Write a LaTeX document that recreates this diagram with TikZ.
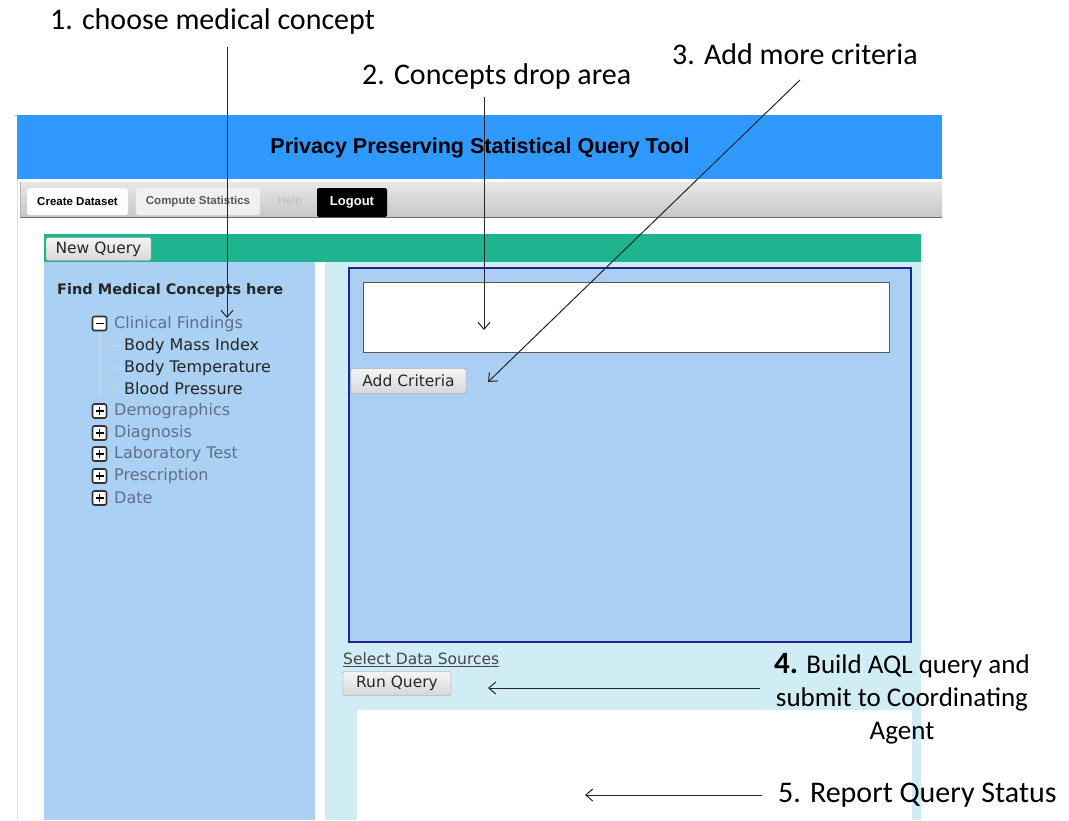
\documentclass[tikz,border=0pt]{standalone}
\usepackage{fontspec}
\setmainfont{Carlito}
\newfontfamily\uifont{DejaVu Sans}
\newfontfamily\arialfont{Liberation Sans}
\usetikzlibrary{arrows.meta}
\definecolor{headerblue}{RGB}{48,153,255}
\definecolor{barA}{RGB}{232,232,232}
\definecolor{barB}{RGB}{198,198,198}
\definecolor{barline}{RGB}{110,110,110}
\definecolor{greenbar}{RGB}{29,180,143}
\definecolor{leftpanel}{RGB}{170,208,244}
\definecolor{rightpanel}{RGB}{208,236,245}
\definecolor{critfill}{RGB}{170,207,243}
\definecolor{critborder}{RGB}{30,40,140}
\definecolor{treegray}{RGB}{95,112,135}
\definecolor{treeline}{RGB}{200,212,225}
\definecolor{btnA}{RGB}{245,245,245}
\definecolor{btnB}{RGB}{215,215,215}
\definecolor{btnline}{RGB}{150,150,150}
\definecolor{linkgray}{RGB}{70,70,70}
\tikzset{
  ann/.style={font=\fontsize{30}{33}\selectfont, inner sep=0pt},
  annarrow/.style={-{Straight Barb[length=7pt,width=12pt]}, line width=1pt, black!85},
  btn/.style={draw=btnline, rounded corners=2pt, top color=btnA, bottom color=btnB, inner sep=0pt, font=\uifont\fontsize{15.5}{18}\selectfont, text=black!85},
  treeitem/.style={anchor=west, inner sep=0pt, font=\uifont\fontsize{16}{18}\selectfont, text=treegray},
  treechild/.style={anchor=west, inner sep=0pt, font=\uifont\fontsize{16}{18}\selectfont, text=black!85},
  pmbox/.style={draw=black!80, line width=1.6pt, rounded corners=2pt, fill=white, minimum size=14pt, inner sep=0pt},
  tab/.style={inner sep=0pt, font=\arialfont\bfseries\fontsize{11.5}{13}\selectfont}
}
\begin{document}
\begin{tikzpicture}[x=1pt,y=-1pt]
\useasboundingbox (0,0) rectangle (1069,820);
\fill[white] (0,0) rectangle (1069,820);
% page frame
\draw[gray!40, line width=1pt] (14,115) -- (17,115);
\draw[gray!25, line width=1pt] (17,179) -- (17,820);
% header
\fill[headerblue] (17,115) rectangle (942,179);
\node[font=\arialfont\bfseries\fontsize{21.5}{25}\selectfont, inner sep=0pt] (title) at (480,148) {Privacy Preserving Statistical Query Tool};
% toolbar
\shade[top color=barA, bottom color=barB] (20,182) rectangle (942,217);
\draw[barline, line width=1.5pt] (20,217.5) -- (942,217.5);
\draw[gray!60] (20,182) -- (20,217);
\node[tab, fill=white, draw=gray!30, rounded corners=2pt, minimum width=101pt, minimum height=27pt] (tcreate) at (77.5,201.5) {Create Dataset};
\node[tab, fill=gray!12, draw=gray!20, rounded corners=2pt, minimum width=124pt, minimum height=27pt, text=black!65] (tcompute) at (198,201.5) {Compute Statistics};
\node[tab, text=gray!45] (thelp) at (290,201.5) {Help};
\node[tab, fill=black, rounded corners=2pt, minimum width=70pt, minimum height=29pt, text=white, font=\arialfont\bfseries\fontsize{13}{15}\selectfont] (tlogout) at (352,202.5) {Logout};
% green bar
\fill[greenbar] (44,234) rectangle (921,262);
\node[btn, minimum width=105pt, minimum height=23pt] (newq) at (98.5,249) {New Query};
% panels
\fill[leftpanel] (44,262) rectangle (315,820);
\fill[rightpanel] (325,262) rectangle (921,820);
% criteria box
\draw[critborder, fill=critfill, line width=2pt] (349,268) rectangle (911,642);
\draw[gray!70!black, fill=white, line width=1pt] (363.5,282.5) rectangle (889,352.5);
\node[btn, minimum width=115pt, minimum height=25pt] (addcrit) at (408.5,381) {Add Criteria};
% below criteria
\node[anchor=west, inner sep=0pt, font=\uifont\fontsize{15.5}{18}\selectfont, text=linkgray] (selds) at (343,660) {\underline{Select Data Sources}};
\node[btn, minimum width=108pt, minimum height=24pt] (runq) at (397,683.5) {Run Query};
\fill[white] (357,710) rectangle (912,820);
% tree
\node[anchor=west, inner sep=0pt, font=\uifont\bfseries\fontsize{14.5}{17}\selectfont, text=black!85] (findlbl) at (57,290) {Find Medical Concepts here};
\draw[treeline, line width=2pt] (100,332) -- (100,395);
\node[pmbox] (b1) at (99.5,323.5) {};
\draw[line width=1.8pt] ([xshift=-4pt]b1.center) -- ([xshift=4pt]b1.center);
\node[treeitem] (clin) at (114,324) {Clinical Findings};
\foreach \yy/\tt/\nm in {346/Body Mass Index/bmi, 368/Body Temperature/btemp, 389/Blood Pressure/bp}{
  \draw[treeline, line width=1.2pt, dash pattern=on 2pt off 2pt] (108,\yy) -- (121,\yy);
  \node[treechild] (\nm) at (124,\yy) {\tt};
}
\foreach \yy/\tt/\nm in {411/Demographics/demo, 433/Diagnosis/diag, 454/Laboratory Test/lab, 476/Prescription/presc, 498/Date/date}{
  \node[pmbox] (box\nm) at (99.5,\yy) {};
  \draw[line width=1.8pt] ([xshift=-4pt]box\nm.center) -- ([xshift=4pt]box\nm.center);
  \draw[line width=1.8pt] ([yshift=-4pt]box\nm.center) -- ([yshift=4pt]box\nm.center);
  \node[treeitem] (\nm) at (114,\yy) {\tt};
}
% annotations
\node[ann, anchor=west] (a1) at (50,21) {1. choose medical concept};
\node[ann, anchor=west] (a2) at (362,76) {2. Concepts drop area};
\node[ann, anchor=west] (a3) at (672,54) {3. Add more criteria};
\node[ann, align=center, font=\fontsize{27}{33}\selectfont] (a4) at (902,699) {{\fontsize{31}{33}\selectfont\bfseries 4.} Build AQL query and\\ submit to Coordinating\\ Agent};
\node[ann, anchor=west] (a5) at (778,795) {5. Report Query Status};
\coordinate (s1) at (227,47);
\coordinate (e1) at (227,318);
\coordinate (s2) at (484,97);
\coordinate (e2) at (484,330);
\coordinate (s3) at (800,80);
\coordinate (e3) at (488,382);
\coordinate (s4) at (760,688);
\coordinate (e4) at (488,688);
\coordinate (s5) at (762,795);
\coordinate (e5) at (585,795);
\draw[annarrow] (s1) -- (e1);
\draw[annarrow] (s2) -- (e2);
\draw[annarrow] (s3) -- (e3);
\draw[annarrow] (s4) -- (e4);
\draw[annarrow] (s5) -- (e5);
\end{tikzpicture}
\end{document}
